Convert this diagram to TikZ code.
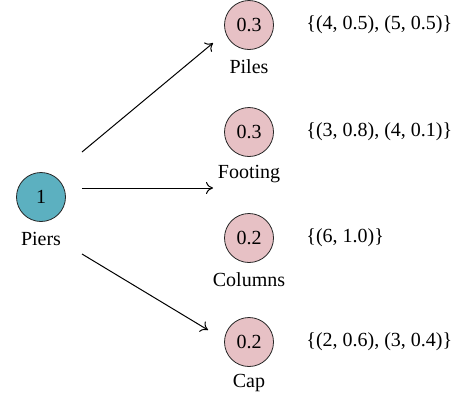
\documentclass[tikz,border=0pt]{standalone}
\usepackage{fontspec}
\setmainfont{Liberation Serif}
\usetikzlibrary{arrows.meta}
\definecolor{pierblue}{RGB}{92,176,192}
\definecolor{partpink}{RGB}{231,193,197}
\tikzset{
    member/.style={circle, draw=black!85, thin, minimum size=24.5pt, inner sep=0pt},
    partname/.style={inner sep=1pt},
    timeset/.style={anchor=west, inner sep=0pt},
    link/.style={-{To[length=3.5pt, width=6pt]}, line width=0.5pt}
}
\begin{document}
\begin{tikzpicture}[x=0.5pt, y=-0.5pt]
    \useasboundingbox (0,0) rectangle (458,397);

    % Root element
    \node[member, fill=pierblue] (piers) at (41,197) {1};
    \node[partname] (piersname) at (41,239) {Piers};

    % Sub-elements
    \node[member, fill=partpink] (piles) at (249,25) {0.3};
    \node[partname] (pilesname) at (249,67) {Piles};
    \node[timeset] (pilesset) at (306,25) {\{(4, 0.5), (5, 0.5)\}};

    \node[member, fill=partpink] (footing) at (249,132) {0.3};
    \node[partname] (footingname) at (249,174) {Footing};
    \node[timeset] (footingset) at (306,132) {\{(3, 0.8), (4, 0.1)\}};

    \node[member, fill=partpink] (columns) at (249,238) {0.2};
    \node[partname] (columnsname) at (249,280) {Columns};
    \node[timeset] (columnsset) at (306,238) {\{(6, 1.0)\}};

    \node[member, fill=partpink] (cap) at (249,342) {0.2};
    \node[partname] (capname) at (249,383) {Cap};
    \node[timeset] (capset) at (306,342) {\{(2, 0.6), (3, 0.4)\}};

    % Arrows
    \coordinate (pilesout) at ([shift={(41,-45)}]piers.center);
    \coordinate (pilesin) at ([shift={(-36,18)}]piles.center);
    \coordinate (footingin) at (213,188);
    \coordinate (capout) at ([shift={(41,57)}]piers.center);
    \coordinate (capin) at (208,330);
    \draw[link] (pilesout) -- (pilesin);
    \draw[link, shorten <=8pt] (footingin -| piers.east) -- (footingin);
    \draw[link] (capout) -- (capin);
\end{tikzpicture}
\end{document}
